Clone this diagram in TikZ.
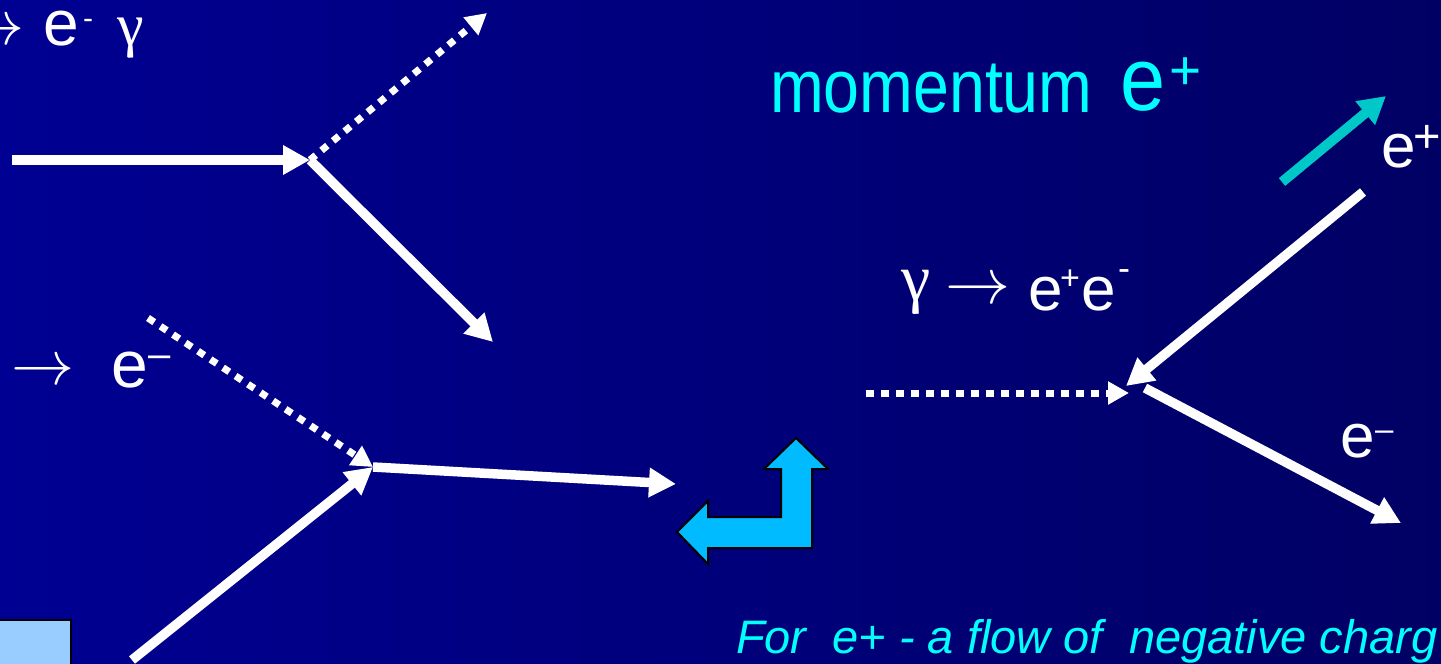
\documentclass[tikz,border=0pt]{standalone}
\usepackage{graphicx}
\usepackage{fontspec}
\setmainfont{Liberation Sans}
\newfontfamily\serifgreek{Liberation Serif}
\usetikzlibrary{arrows.meta}
\definecolor{bgL}{RGB}{0,0,146}
\definecolor{bgR}{RGB}{0,0,100}
\definecolor{cyantext}{RGB}{0,255,255}
\definecolor{tealarrow}{RGB}{0,200,200}
\definecolor{bentfill}{RGB}{0,187,255}
\definecolor{boxfill}{RGB}{153,204,255}
\newcommand{\fs}[1]{\fontsize{#1}{#1}\selectfont}
\newcommand{\bigarrow}[1]{\scalebox{#1}{\normalsize$\rightarrow$}}
\begin{document}
\begin{tikzpicture}[x=1pt,y=-1pt,
  wline/.style={draw=white, line width=9.5pt, -{Triangle[length=27pt,width=28pt]}},
  dline/.style={draw=white, line width=7pt, dash pattern=on 7.5pt off 7.5pt, -{Triangle[length=21pt,width=22pt]}},
  tline/.style={draw=tealarrow, line width=10pt, -{Triangle[length=27pt,width=29pt]}},
  lbl/.style={anchor=base west, inner sep=0pt, outer sep=0pt, text=white}]
\useasboundingbox (0,0) rectangle (1441,664);
\clip (0,0) rectangle (1441,664);
\shade[left color=bgL, right color=bgR] (0,0) rectangle (1441,664);

% coordinates
\coordinate (a1) at (12,160);
\coordinate (v1) at (310,160);
\coordinate (g1) at (487,13);
\coordinate (o1) at (493,342);
\coordinate (g2) at (148,318);
\coordinate (v2) at (373,467);
\coordinate (i2) at (132,660);
\coordinate (o2) at (676,484);
\coordinate (t1) at (1282,182);
\coordinate (t2) at (1386,96);
\coordinate (p1) at (1363,192);
\coordinate (v3) at (1126,386);
\coordinate (g3) at (866,393);
\coordinate (v3t) at (1129,393);
\coordinate (v3b) at (1145,388);
\coordinate (o3) at (1401,523);

% left diagrams
\draw[wline] (a1) -- (v1);
\draw[dline] (v1) -- (g1);
\draw[wline] (v1) -- (o1);
\draw[dline] (g2) -- (v2);
\draw[wline] (i2) -- (v2);
\draw[wline] (v2) -- (o2);

% right diagram
\draw[tline] (t1) -- (t2);
\draw[wline] (p1) -- (v3);
\draw[dline] (g3) -- (v3t);
\draw[wline] (v3b) -- (o3);

% bent arrow
\draw[fill=bentfill, draw=black, line width=2pt, line join=miter]
  (796,438) -- (828,469) -- (812,469) -- (812,548) -- (708,548) -- (708,564)
  -- (677,532) -- (708,501) -- (708,517) -- (781,517) -- (781,469) -- (764,469) -- cycle;

% light blue box
\draw[fill=boxfill, draw=black, line width=1.5pt] (-5,620) rectangle (71,670);

% labels top-left
\node[lbl] (tlarr) at (-38,44) {\bigarrow{6.3}};
\node[lbl] (tle) at (43,45) {\fs{64}e};
\node[lbl] (tlm) at (83,28) {\fs{30}-};
\node[lbl] (tlg) at (117,45) {\serifgreek\fs{60}γ};

% labels left-middle
\node[lbl] (lmarr) at (12,384) {\bigarrow{6.3}};
\node[lbl] (lme) at (111,387) {\fs{66}e};
\node[lbl] (lmm) at (148,367) {\fs{40}–};

% momentum
\node[lbl, text=cyantext] (mom) at (770,112) {\scalebox{0.86}[1]{\fs{75}momentum}};
\node[lbl, text=cyantext] (mome) at (1120,110) {\scalebox{0.9}[1]{\fs{90}e}};
\node[lbl, text=cyantext] (momp) at (1169,89) {\fs{55}+};

% gamma -> e+ e-
\node[lbl] (mg) at (901,300) {\serifgreek\fs{66}γ};
\node[lbl] (marr) at (945,303) {\bigarrow{6.5}};
\node[lbl] (me1) at (1028,310) {\fs{62}e};
\node[lbl] (mp) at (1060,289) {\fs{34}+};
\node[lbl] (me2) at (1081,310) {\fs{62}e};
\node[lbl] (mm) at (1118,280) {\fs{36}-};

% right labels
\node[lbl] (re) at (1381,167) {\fs{62}e};
\node[lbl] (rp) at (1413,152) {\fs{47}+};
\node[lbl] (re2) at (1340,457) {\fs{62}e};
\node[lbl] (rm) at (1375,440) {\fs{33}–};

% bottom note
\node[lbl, text=cyantext] (note) at (736,653) {\itshape\fs{47}For\ \ e+ - a flow of\ \ negative charg};
\end{tikzpicture}
\end{document}
